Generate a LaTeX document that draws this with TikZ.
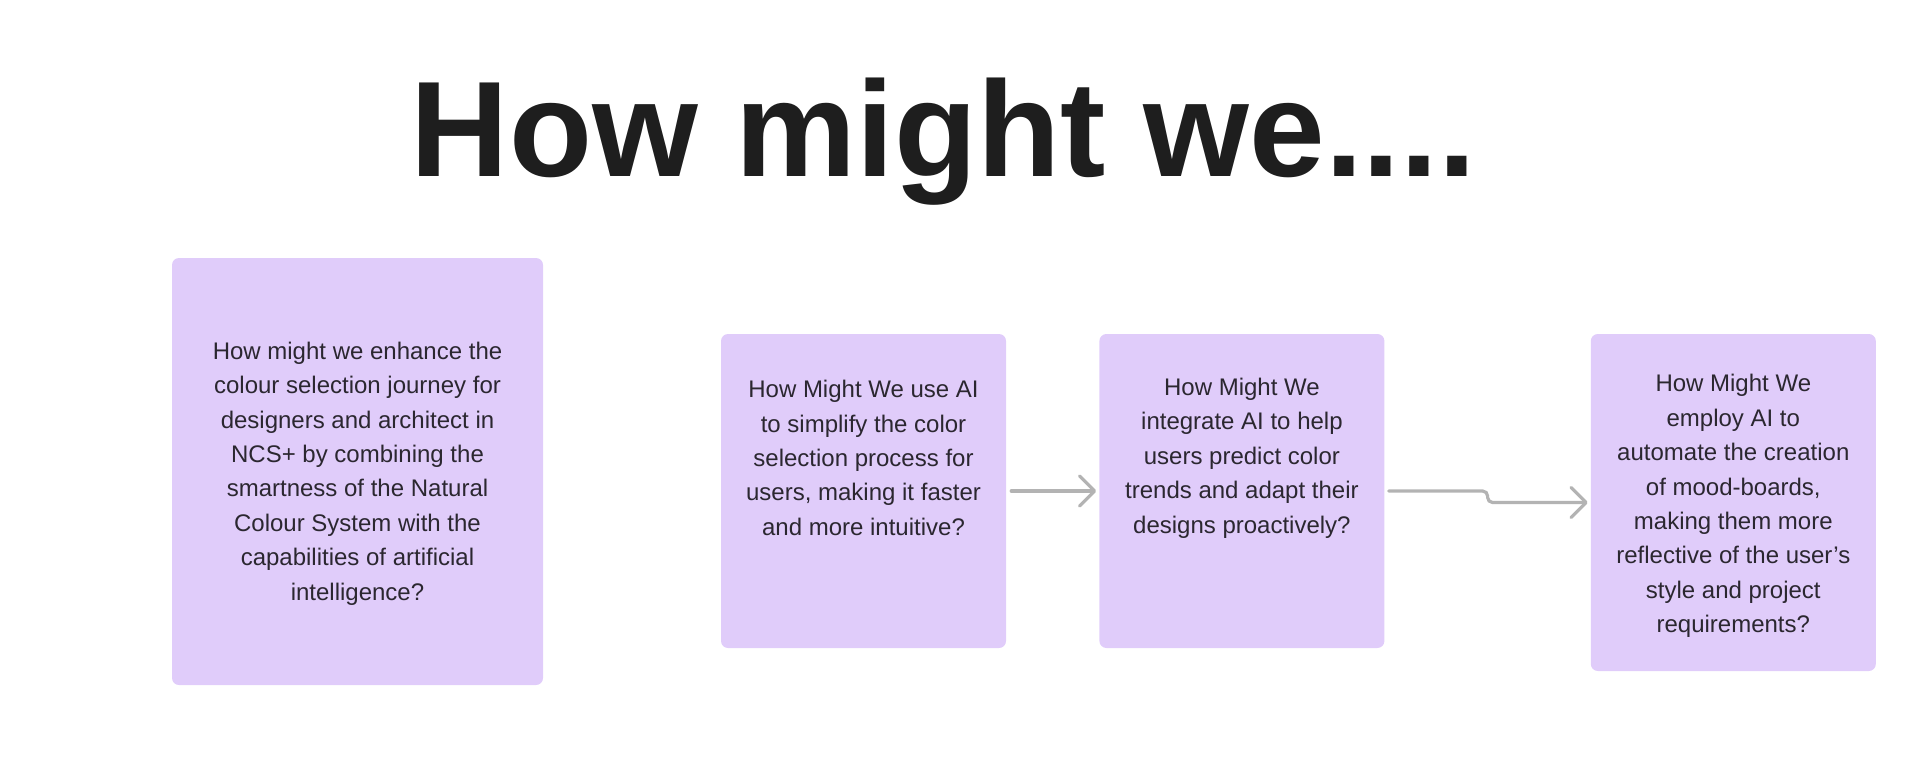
\documentclass[tikz,border=0pt]{standalone}
\usepackage{fontspec}
\setmainfont{Liberation Sans}
\usetikzlibrary{arrows.meta, positioning}
\definecolor{cardfill}{HTML}{E0CCFA}
\definecolor{inkgray}{HTML}{2B2730}
\definecolor{titleink}{HTML}{1E1E1E}
\definecolor{arrowgray}{HTML}{B3B3B3}

\begin{document}
\begin{tikzpicture}[
    x=1pt, y=-1pt,
    card/.style={fill=cardfill, rounded corners=7pt, inner sep=0pt, minimum width=285pt},
    qtext/.style={font=\fontsize{24}{34.4}\selectfont, text=inkgray, align=center, inner sep=0pt},
    headline/.style={font=\fontsize{136}{150}\selectfont\bfseries, text=titleink, anchor=base, inner sep=0pt},
    arr/.style={-{Straight Barb[length=15pt, width=30pt, round]}, line width=3.2pt, draw=arrowgray, line cap=round}
  ]
  \useasboundingbox (0,0) rectangle (1916,778);

  % --- Title ---
  \node[headline] (title) at (943.5,177) {How might we....};

  % --- Cards ---
  \node[card, minimum width=371pt, minimum height=427pt] (q1) at (357.5,471.5) {};
  \node[card, minimum height=314pt] (q2) at (863.5,491) {};
  \node[card, minimum height=314pt, right=93pt of q2] (q3) {};
  \node[card, minimum height=337pt, right=206pt of q3.north east, anchor=north west] (q4) {};

  % --- Card texts ---
  \node[qtext, yshift=-2pt] (t1) at (q1.center) {How might we enhance the\\colour selection journey for\\designers and architect in\\NCS+ by combining the\\smartness of the Natural\\Colour System with the\\capabilities of artificial\\intelligence?};
  \node[qtext, yshift=33pt] (t2) at (q2.center) {How Might We use AI\\to simplify the color\\selection process for\\users, making it faster\\and more intuitive?};
  \node[qtext, yshift=33pt] (t3) at (q3.center) {How Might We\\integrate AI to help\\users predict color\\trends and adapt their\\designs proactively?};
  \node[qtext, yshift=-3.5pt] (t4) at (q4.center) {How Might We\\employ AI to\\automate the creation\\of mood-boards,\\making them more\\reflective of the user’s\\style and project\\requirements?};

  % --- Arrows ---
  \draw[arr, shorten <=5pt, shorten >=3pt] (q2) -- (q3);
  \draw[arr, rounded corners=5pt, shorten <=4pt, shorten >=3pt] (q3.east) -| ([xshift=-103pt]q4.west) -- (q4.west);

\end{tikzpicture}
\end{document}
